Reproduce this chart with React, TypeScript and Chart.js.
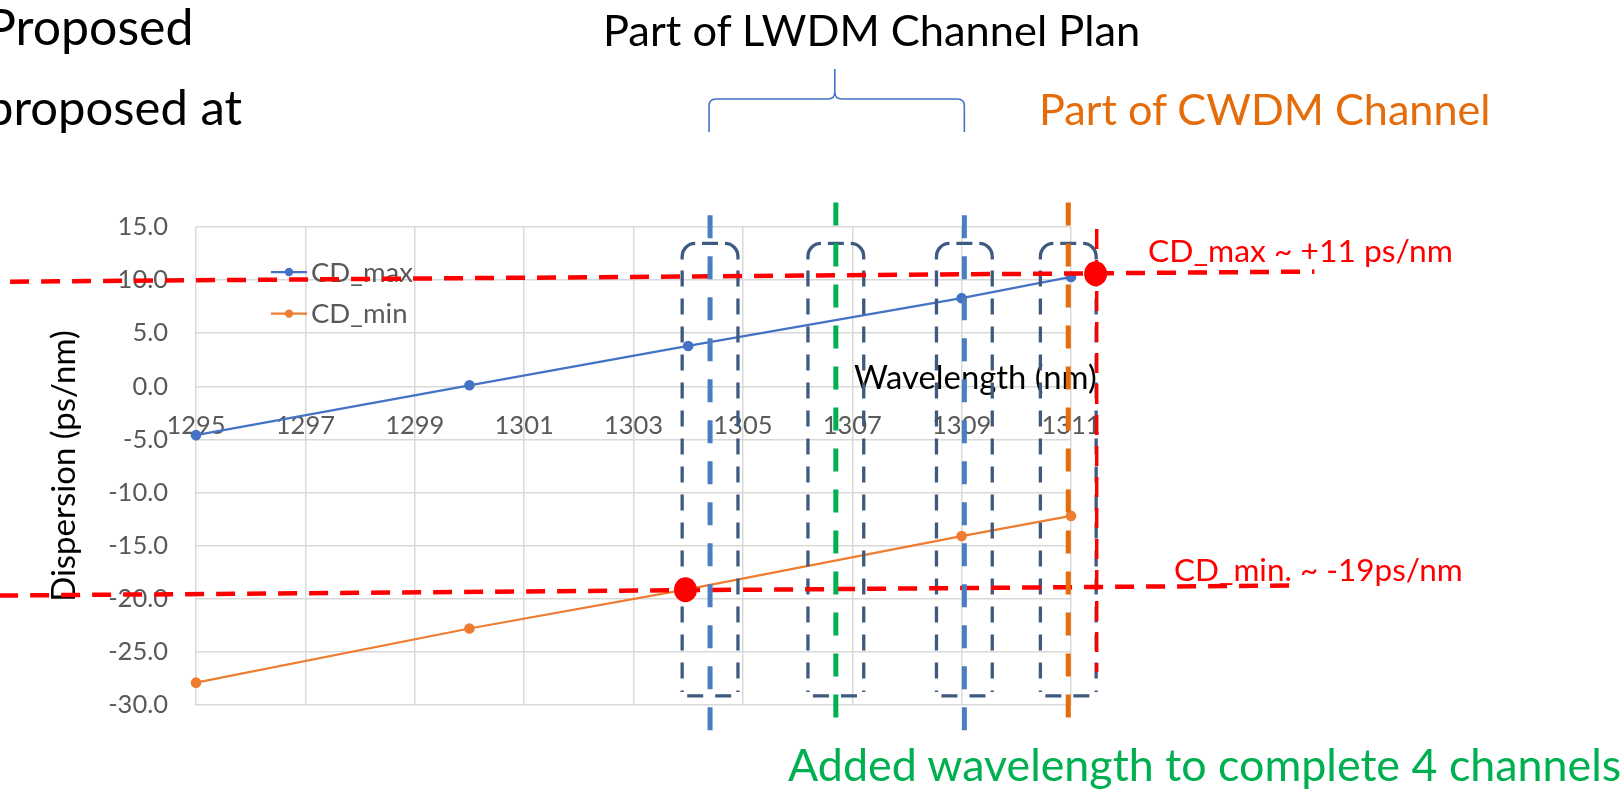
import React, { useEffect, useRef } from 'react';
import { Chart, registerables } from 'chart.js';

Chart.register(...registerables);

// Measured dispersion limits of the fibre (ps/nm) against wavelength (nm)
const wavelengths = [1295, 1300, 1304, 1309, 1311];
const cdMax = [-4.6, 0.1, 3.8, 8.3, 10.3];
const cdMin = [-27.9, -22.8, -19.1, -14.1, -12.2];

// Axis ranges and tick steps
const xRange = [1295, 1311];
const xStep = 2;
const yRange = [-30, 15];
const yStep = 5;

// Channel plan annotations (nm)
const lwdmChannels = [1304.4, 1309.05];
const addedChannels = [1306.7];
const cwdmChannels = [1310.95];
const boxedChannels = [1304.4, 1306.7, 1309.05, 1310.95];
const boxHalfWidth = 0.51;
const boxSpan = [13.45, -29.15];
const lwdmSpan = [16.1, -32.4];
const markerSpan = [17.3, -31.2];

// Dispersion limit call-outs (nm, ps/nm)
const maxPoint = [1311.45, 10.6];
const minPoint = [1303.95, -19.15];
const maxGuide = [[1291.6, 9.85], [1315.45, 10.8]];
const minGuide = [[1291.4, -19.7], [1315.0, -18.75]];
const maxDrop = [[1311.47, 14.8], [1311.47, -26.9]];

const BLUE = '#4472C4';
const ORANGE = '#ED7D31';
const RED = '#FF0000';
const GREEN = '#00B050';
const CWDM_ORANGE = '#E46C0A';
const LWDM_BLUE = '#4A7EC0';
const BOX_BLUE = '#3E5A80';
const FONT = 'Lato, "Open Sans", sans-serif';

function dashedLine(ctx: any, x1: number, y1: number, x2: number, y2: number, color: string, width: number, dash: number[]) {
  ctx.save();
  ctx.strokeStyle = color;
  ctx.lineWidth = width;
  ctx.lineCap = 'butt';
  ctx.setLineDash(dash);
  ctx.beginPath();
  ctx.moveTo(x1, y1);
  ctx.lineTo(x2, y2);
  ctx.stroke();
  ctx.restore();
}

function dashedBox(ctx: any, x0: number, x1: number, y0: number, y1: number) {
  const r = 13;
  ctx.save();
  ctx.strokeStyle = BOX_BLUE;
  ctx.lineWidth = 3.3;
  ctx.lineCap = 'butt';
  ctx.setLineDash([]);
  // rounded top corners and the short middle dash
  ctx.beginPath();
  ctx.moveTo(x0, y0 + r + 3);
  ctx.arcTo(x0, y0, x0 + r, y0, r);
  ctx.moveTo(x0 + (x1 - x0) / 2 - 8, y0);
  ctx.lineTo(x0 + (x1 - x0) / 2 + 8, y0);
  ctx.moveTo(x1 - r, y0);
  ctx.arcTo(x1, y0, x1, y0 + r, r);
  ctx.lineTo(x1, y0 + r + 3);
  ctx.stroke();
  // dashed sides and bottom
  ctx.setLineDash([16, 12]);
  ctx.beginPath();
  ctx.moveTo(x0, y0 + r + 14);
  ctx.lineTo(x0, y1 - 4);
  ctx.stroke();
  ctx.beginPath();
  ctx.moveTo(x1, y0 + r + 14);
  ctx.lineTo(x1, y1 - 4);
  ctx.stroke();
  ctx.beginPath();
  ctx.moveTo(x0 + 5, y1);
  ctx.lineTo(x1 - 3, y1);
  ctx.stroke();
  ctx.restore();
}

const overlayPlugin = {
  id: 'channelOverlay',
  afterDatasetsDraw(chart: any) {
    const { ctx, chartArea } = chart;
    ctx.save();
    // series legend inside the plot
    chart.data.datasets.forEach((ds: any, i: number) => {
      const y = chartArea.top + 45 + i * 41.6;
      const x0 = chartArea.left + 75;
      ctx.strokeStyle = ds.borderColor;
      ctx.lineWidth = 2.25;
      ctx.beginPath();
      ctx.moveTo(x0, y);
      ctx.lineTo(x0 + 36, y);
      ctx.stroke();
      ctx.fillStyle = ds.borderColor;
      ctx.beginPath();
      ctx.arc(x0 + 18, y, 4.2, 0, Math.PI * 2);
      ctx.fill();
      ctx.fillStyle = '#595959';
      ctx.font = `27.5px ${FONT}`;
      ctx.textAlign = 'left';
      ctx.textBaseline = 'middle';
      ctx.fillText(ds.label, x0 + 40, y + 1);
    });
    // horizontal axis title, placed inside the plot
    ctx.fillStyle = '#000000';
    ctx.font = `32.8px ${FONT}`;
    ctx.textAlign = 'left';
    ctx.textBaseline = 'alphabetic';
    ctx.fillText('Wavelength (nm)', chartArea.right - 217, chartArea.top + 162);
    ctx.restore();
  },
  afterDraw(chart: any) {
    const { ctx } = chart;
    const xs = chart.scales.x;
    const ys = chart.scales.y;
    const px = (v: number) => xs.getPixelForValue(v);
    const py = (v: number) => ys.getPixelForValue(v);

    boxedChannels.forEach((c) =>
      dashedBox(ctx, px(c - boxHalfWidth), px(c + boxHalfWidth), py(boxSpan[0]), py(boxSpan[1]))
    );

    [maxGuide, minGuide].forEach((g) =>
      dashedLine(ctx, px(g[0][0]), py(g[0][1]), px(g[1][0]), py(g[1][1]), RED, 4.5, [19, 12])
    );

    lwdmChannels.forEach((c) =>
      dashedLine(ctx, px(c), py(lwdmSpan[0]), px(c), py(lwdmSpan[1]), LWDM_BLUE, 5, [23, 18])
    );
    addedChannels.forEach((c) =>
      dashedLine(ctx, px(c), py(markerSpan[0]), px(c), py(markerSpan[1]), GREEN, 5, [23, 18])
    );
    cwdmChannels.forEach((c) =>
      dashedLine(ctx, px(c), py(markerSpan[0]), px(c), py(markerSpan[1]), CWDM_ORANGE, 5, [23, 18])
    );

    dashedLine(ctx, px(maxDrop[0][0]), py(maxDrop[0][1]), px(maxDrop[1][0]), py(maxDrop[1][1]), RED, 3.5, [20, 11]);

    ctx.save();
    ctx.fillStyle = RED;
    [maxPoint, minPoint].forEach((p) => {
      ctx.beginPath();
      ctx.ellipse(px(p[0]), py(p[1]), 11.5, 12.5, 0, 0, Math.PI * 2);
      ctx.fill();
    });
    ctx.restore();

    // brace grouping the LWDM channels, tip over the added channel
    const bx0 = px(lwdmChannels[0]) - 1;
    const bx1 = px(lwdmChannels[1]);
    const tip = px(addedChannels[0]) - 1;
    const yTip = 69;
    const yMid = 99;
    const yEnd = 132;
    const rr = 7;
    ctx.save();
    ctx.strokeStyle = BLUE;
    ctx.lineWidth = 1.6;
    ctx.setLineDash([]);
    ctx.beginPath();
    ctx.moveTo(bx0, yEnd);
    ctx.lineTo(bx0, yMid + rr);
    ctx.quadraticCurveTo(bx0, yMid, bx0 + rr, yMid);
    ctx.lineTo(tip - rr, yMid);
    ctx.quadraticCurveTo(tip, yMid, tip, yMid - rr);
    ctx.lineTo(tip, yTip);
    ctx.moveTo(tip, yMid - rr);
    ctx.quadraticCurveTo(tip, yMid, tip + rr, yMid);
    ctx.lineTo(bx1 - rr, yMid);
    ctx.quadraticCurveTo(bx1, yMid, bx1, yMid + rr);
    ctx.lineTo(bx1, yEnd);
    ctx.stroke();
    ctx.restore();
  },
};

type SlideText = { text: string; left: number; baseline: number; size: number; color: string };

const slideTexts: SlideText[] = [
  { text: 'Proposed', left: -14, baseline: 45, size: 50, color: '#000000' },
  { text: 'proposed at', left: -14, baseline: 125, size: 49, color: '#000000' },
  { text: 'Part of LWDM Channel Plan', left: 603, baseline: 46, size: 43.4, color: '#000000' },
  { text: 'Part of CWDM Channel', left: 1039, baseline: 126, size: 43.2, color: CWDM_ORANGE },
  { text: 'Added wavelength to complete 4 channels', left: 788, baseline: 782, size: 44.8, color: GREEN },
  { text: 'CD_max ~ +11 ps/nm', left: 1148, baseline: 262, size: 31.8, color: RED },
  { text: 'CD_min. ~ -19ps/nm', left: 1174, baseline: 582, size: 31.5, color: RED },
];

export default function App() {
  const canvasRef = useRef<HTMLCanvasElement>(null);

  useEffect(() => {
    const canvas = canvasRef.current;
    if (!canvas) return;
    const tickFont = { family: FONT, size: 25.5 };
    const chart = new Chart(canvas, {
      type: 'scatter',
      data: {
        datasets: [
          {
            label: 'CD_max',
            data: wavelengths.map((w, i) => ({ x: w, y: cdMax[i] })),
            showLine: true,
            borderColor: BLUE,
            backgroundColor: BLUE,
            borderWidth: 2.25,
            pointRadius: 4.2,
            pointHoverRadius: 4.2,
            clip: false,
          },
          {
            label: 'CD_min',
            data: wavelengths.map((w, i) => ({ x: w, y: cdMin[i] })),
            showLine: true,
            borderColor: ORANGE,
            backgroundColor: ORANGE,
            borderWidth: 2.25,
            pointRadius: 4.2,
            pointHoverRadius: 4.2,
            clip: false,
          },
        ],
      },
      options: {
        responsive: false,
        animation: false,
        devicePixelRatio: 1,
        layout: { padding: { left: 0, top: 227, right: 550, bottom: 85 } },
        plugins: { legend: { display: false }, tooltip: { enabled: false } },
        scales: {
          x: {
            type: 'linear',
            min: xRange[0],
            max: xRange[1],
            position: { y: 0 },
            border: { display: false },
            grid: { color: '#D9D9D9', lineWidth: 1.5, drawTicks: false },
            ticks: {
              stepSize: xStep,
              color: '#595959',
              font: tickFont,
              padding: 24,
              callback: (v: any) => String(v),
            },
          },
          y: {
            type: 'linear',
            min: yRange[0],
            max: yRange[1],
            border: { display: false },
            grid: { color: '#D9D9D9', lineWidth: 1.5, drawTicks: false },
            ticks: {
              stepSize: yStep,
              color: '#595959',
              font: tickFont,
              padding: 28,
              callback: (v: any) => Number(v).toFixed(1),
            },
            title: {
              display: true,
              text: 'Dispersion (ps/nm)',
              color: '#000000',
              font: { family: FONT, size: 33 },
              padding: { top: 45, bottom: 0 },
            },
            afterFit: (scale: any) => {
              scale.width = 196;
            },
          },
        },
      },
      plugins: [overlayPlugin],
    } as any);
    return () => chart.destroy();
  }, []);

  return (
    <div
      style={{
        position: 'absolute',
        left: 0,
        top: 0,
        width: 1621,
        height: 790,
        overflow: 'hidden',
        background: '#ffffff',
        fontFamily: FONT,
      }}
    >
      <canvas
        ref={canvasRef}
        width={1621}
        height={790}
        style={{ position: 'absolute', left: 0, top: 0, width: 1621, height: 790 }}
      />
      {slideTexts.map((t) => (
        <div
          key={t.text}
          style={{
            position: 'absolute',
            left: t.left,
            top: t.baseline - 0.987 * t.size,
            fontSize: t.size,
            lineHeight: 1.2,
            color: t.color,
            whiteSpace: 'nowrap',
          }}
        >
          {t.text}
        </div>
      ))}
    </div>
  );
}
